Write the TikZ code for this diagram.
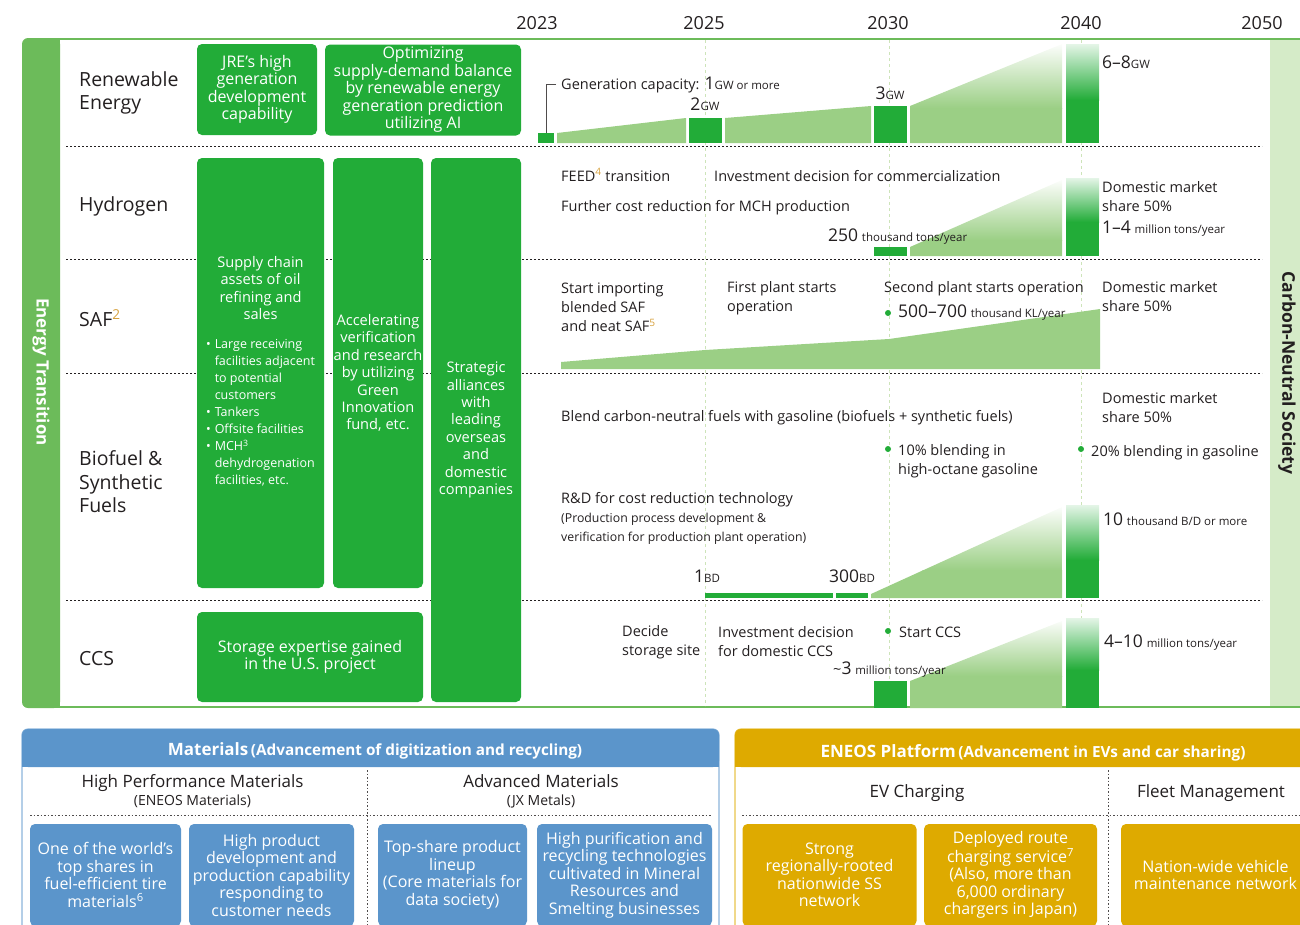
\documentclass[tikz,border=0pt]{standalone}
\usepackage{fontspec}
\setmainfont{Open Sans}
\usetikzlibrary{positioning}

\definecolor{ink}{RGB}{35,31,32}
\definecolor{boxgreen}{RGB}{34,172,56}
\definecolor{barlight}{RGB}{155,207,133}
\definecolor{framegreen}{RGB}{108,187,90}
\definecolor{cnsgreen}{RGB}{213,235,200}
\definecolor{gridgreen}{RGB}{205,228,185}
\definecolor{matblue}{RGB}{91,149,203}
\definecolor{platgold}{RGB}{222,170,0}
\definecolor{supgold}{RGB}{214,160,60}

\newcommand\smtxt[1]{{\fontsize{11.5}{13}\selectfont #1}}
\newcommand\bgnum[1]{{\fontsize{17.5}{19}\selectfont #1}}
\newcommand\ft[1]{\textsuperscript{\color{supgold}#1}}

\begin{document}
\begin{tikzpicture}[x=1pt,y=-1pt]
\tikzstyle{every node}=[text=ink,inner sep=0pt]
\tikzstyle{gbox}=[fill=boxgreen,rounded corners=5pt]
\tikzstyle{bluebox}=[fill=matblue,rounded corners=5pt]
\tikzstyle{goldbox}=[fill=platgold,rounded corners=5pt]
\tikzstyle{boxtext}=[text=white,align=center,font=\fontsize{16}{17.5}\selectfont]
\tikzstyle{narrowtext}=[text=white,align=center,font=\fontsize{14.6}{17.4}\selectfont]
\tikzstyle{rowlabel}=[anchor=west,align=left,font=\fontsize{19.5}{23.5}\selectfont]
\tikzstyle{chartnote}=[anchor=west,align=left,font=\fontsize{14.5}{19}\selectfont]
\tikzstyle{yearlbl}=[font=\fontsize{18}{20}\selectfont]
\tikzstyle{subhead}=[anchor=base,font=\fontsize{17}{20}\selectfont]
\tikzstyle{panelhead}=[anchor=base,text=white,font=\bfseries]
\tikzstyle{rowsep}=[ink,dash pattern=on 2pt off 2pt,line width=0.8pt]
\tikzstyle{yearline}=[gridgreen,dash pattern=on 3pt off 3pt,line width=1pt]
\tikzstyle{divider}=[ink!80,dash pattern=on 1.5pt off 2pt,line width=0.8pt]
\tikzstyle{ptdot}=[circle,fill=boxgreen,minimum size=6pt]

\useasboundingbox (0,0) rectangle (1300,924);

% frame
\fill[framegreen,rounded corners=6pt] (22,38) rectangle (60,708);
\fill[framegreen] (50,38) rectangle (60,708);
\fill[cnsgreen] (1270,38) rectangle (1300,708);
\draw[framegreen,line width=1.6pt] (55,38.8) -- (1300,38.8);
\draw[framegreen,line width=1.6pt] (55,707.2) -- (1300,707.2);
\node[rotate=-90,text=white,font=\bfseries\fontsize{17}{19}\selectfont] (etrans) at (41,372) {Energy Transition};
\node[rotate=-90,font=\bfseries\fontsize{17.5}{19}\selectfont] (cns) at (1287,373) {Carbon-Neutral Society};

% years
\node[yearlbl] (y2023) at (537,23) {2023};
\node[yearlbl] (y2025) at (704,23) {2025};
\node[yearlbl] (y2030) at (888,23) {2030};
\node[yearlbl] (y2040) at (1081,23) {2040};
\node[yearlbl] (y2050) at (1262,23) {2050};
\foreach \x in {705,889,1081}
  \draw[yearline] (\x,40) -- (\x,706);
\foreach \y in {146,259,373,600}
  \draw[rowsep] (66,\y) -- (1262,\y);

% rows
\node[rowlabel] (renew) at (79,93) {Renewable\\Energy};
\node[rowlabel] (hydro) at (79,206) {Hydrogen};
\node[rowlabel] (saf) at (79,318) {SAF\ft{2}};
\node[rowlabel] (biofuel) at (79,482) {Biofuel \&\\Synthetic\\Fuels};
\node[rowlabel] (ccs) at (79,659) {CCS};

% strengths
\node[gbox,boxtext,minimum width=120pt,minimum height=91pt] (jre) at (257,89.5) {JRE’s high\\generation\\development\\capability};
\node[gbox,boxtext,minimum width=196pt,minimum height=91pt] (aiopt) at (423,90) {Optimizing\\supply-demand balance\\by renewable energy\\generation prediction\\utilizing AI};
\node[gbox,narrowtext,minimum width=127pt,minimum height=430pt] (supply) at (260.5,373) {Supply chain\\assets of oil\\refining and\\sales\\[12pt]
  {\fontsize{12.5}{17}\selectfont\begin{tabular}[t]{@{}l@{\hspace{4pt}}l@{}}
  \textbullet & Large receiving\\
   & facilities adjacent\\
   & to potential\\
   & customers\\
  \textbullet & Tankers\\
  \textbullet & Offsite facilities\\
  \textbullet & MCH\textsuperscript{3}\\
   & dehydrogenation\\
   & facilities, etc.
  \end{tabular}}};
\node[gbox,narrowtext,minimum width=90pt,minimum height=430pt] (accel) at (378,373) {Accelerating\\verification\\and research\\by utilizing\\Green\\Innovation\\fund, etc.};
\node[gbox,narrowtext,minimum width=90pt,minimum height=544pt] (alliance) at (476,430) {Strategic\\alliances\\with\\leading\\overseas\\and\\domestic\\companies};
\node[gbox,boxtext,minimum width=226pt,minimum height=90pt] (storage) at (310,657) {Storage expertise gained\\in the U.S. project};

% renewable energy
\node[fill=boxgreen,minimum width=16pt,minimum height=10pt] (re23) at (546,138) {};
\fill[barlight] (557,143) -- (557,133) -- (686,118) -- (686,143) -- cycle;
\fill[boxgreen] (689,118) rectangle (722,143);
\fill[barlight] (725,143) -- (725,118) -- (871,106) -- (871,143) -- cycle;
\fill[boxgreen] (874,106) rectangle (907,143);
\begin{scope}
\clip (910,143) -- (910,106) -- (1062,44) -- (1062,143) -- cycle;
\shade[top color=white,bottom color=barlight] (905,42) rectangle (1065,108);
\fill[barlight] (905,107.5) rectangle (1065,145);
\end{scope}
\shade[top color=boxgreen!12!white,bottom color=boxgreen] (1066,44) rectangle (1099,100);
\fill[boxgreen] (1066,99.5) rectangle (1099,143);
\node[chartnote,anchor=base west] (gencap) at (561,89) {Generation capacity: \bgnum{1}\smtxt{GW or more}};
\draw[ink!80,line width=0.8pt] ([xshift=-5pt]gencap.west) -| (re23.north);
\node[chartnote,anchor=base] (gw2) at (705,110) {\bgnum{2}\smtxt{GW}};
\node[chartnote,anchor=base] (gw3) at (890,99) {\bgnum{3}\smtxt{GW}};
\node[chartnote,anchor=base west] (gw68) at (1102,68) {\bgnum{6–8}\smtxt{GW}};

% hydrogen
\fill[boxgreen] (874,247) rectangle (907,256);
\begin{scope}
\clip (910,256) -- (910,247) -- (1062,180) -- (1062,256) -- cycle;
\shade[top color=white,bottom color=barlight] (905,178) rectangle (1065,240);
\fill[barlight] (905,239.5) rectangle (1065,258);
\end{scope}
\shade[top color=boxgreen!12!white,bottom color=boxgreen] (1066,178) rectangle (1099,222);
\fill[boxgreen] (1066,221.5) rectangle (1099,256);
\node[chartnote,anchor=base west] (feed) at (561,181) {FEED\ft{4} transition};
\node[chartnote,anchor=base west] (h2invest) at (714,181) {Investment decision for commercialization};
\node[chartnote,anchor=base west] (mchcost) at (561,211) {Further cost reduction for MCH production};
\node[chartnote,anchor=base west] (h2vol) at (828,241) {\bgnum{250} \smtxt{thousand tons/year}};
\node[chartnote] (h2share) at (1102,197) {Domestic market\\share 50\%};
\node[chartnote,anchor=base west] (h2goal) at (1102,233) {\bgnum{1–4} \smtxt{million tons/year}};

% SAF
\fill[barlight] (561,369) -- (561,362) -- (705,350) -- (889,339) -- (1100,309) -- (1100,369) -- cycle;
\node[chartnote] (safimport) at (561,307) {Start importing\\blended SAF\\and neat SAF\ft{5}};
\node[chartnote] (plant1) at (727,298) {First plant starts\\operation};
\node[chartnote,anchor=base west] (plant2) at (884,292) {Second plant starts operation};
\node[ptdot] (dsaf) at (888,313) {};
\node[chartnote,anchor=base west] (safvol) at (898,317) {\bgnum{500–700} \smtxt{thousand KL/year}};
\node[chartnote] (safshare) at (1102,297) {Domestic market\\share 50\%};

% biofuel & synthetic fuels
\fill[boxgreen] (705,593) rectangle (833,598);
\fill[boxgreen] (836,593) rectangle (868,598);
\begin{scope}
\clip (871,598) -- (871,594) -- (1062,507) -- (1062,598) -- cycle;
\shade[top color=white,bottom color=barlight] (865,505) rectangle (1065,570);
\fill[barlight] (865,569.5) rectangle (1065,600);
\end{scope}
\shade[top color=boxgreen!12!white,bottom color=boxgreen] (1066,505) rectangle (1099,560);
\fill[boxgreen] (1066,559.5) rectangle (1099,598);
\node[chartnote] (bioshare) at (1102,408) {Domestic market\\share 50\%};
\node[chartnote,anchor=base west] (blend) at (561,421) {Blend carbon-neutral fuels with gasoline (biofuels + synthetic fuels)};
\node[ptdot] (d10) at (888,449) {};
\node[chartnote] (blend10) at (898,461) {10\% blending in\\high-octane gasoline};
\node[ptdot] (d20) at (1081,449) {};
\node[chartnote,anchor=base west] (blend20) at (1091,456) {20\% blending in gasoline};
\node[chartnote,anchor=base west] (rnd) at (561,503) {R\&D for cost reduction technology};
\node[chartnote,font=\fontsize{12.3}{18.5}\selectfont] (rnddet) at (561,529) {(Production process development \&\\verification for production plant operation)};
\node[chartnote,anchor=base west] (bd1) at (694,582) {\bgnum{1}\smtxt{BD}};
\node[chartnote,anchor=base west] (bd300) at (829,582) {\bgnum{300}\smtxt{BD}};
\node[chartnote,anchor=base west] (biogoal) at (1103,525) {\bgnum{10} \smtxt{thousand B/D or more}};

% CCS
\fill[boxgreen] (874,681) rectangle (907,708);
\begin{scope}
\clip (910,708) -- (910,681) -- (1062,621) -- (1062,708) -- cycle;
\shade[top color=white,bottom color=barlight] (905,618) rectangle (1065,676);
\fill[barlight] (905,675.5) rectangle (1065,710);
\end{scope}
\shade[top color=boxgreen!12!white,bottom color=boxgreen] (1066,618) rectangle (1099,670);
\fill[boxgreen] (1066,669.5) rectangle (1099,708);
\node[chartnote] (site) at (622,642) {Decide\\storage site};
\node[chartnote] (ccsinvest) at (718,642) {Investment decision\\for domestic CCS};
\node[ptdot] (dccs) at (888,631) {};
\node[chartnote,anchor=base west] (ccsstart) at (899,637) {Start CCS};
\node[chartnote,anchor=base west] (ccsvol) at (833,674) {\textasciitilde\bgnum{3} \smtxt{million tons/year}};
\node[chartnote,anchor=base west] (ccsgoal) at (1104,647) {\bgnum{4–10} \smtxt{million tons/year}};

% materials panel
\draw[matblue!70,line width=1.2pt,fill=white,rounded corners=6pt] (22,729) rectangle (719,950);
\fill[matblue,rounded corners=6pt] (22,729) rectangle (719,767);
\fill[matblue] (22,755) rectangle (719,767);
\node[panelhead] (mathead) at (375,755) {{\fontsize{17}{19}\selectfont Materials} {\fontsize{15.3}{19}\selectfont (Advancement of digitization and recycling)}};
\node[subhead] (hpm) at (192.5,787) {High Performance Materials};
\node[subhead,font=\fontsize{14}{16}\selectfont] (eneosmat) at (192.5,805) {(ENEOS Materials)};
\node[subhead] (advmat) at (541,787) {Advanced Materials};
\node[subhead,font=\fontsize{14}{16}\selectfont] (jxmet) at (541,805) {(JX Metals)};
\draw[divider] (367,770) -- (367,930);
\draw[divider] (30,815.5) -- (711,815.5);
\node[bluebox,boxtext,minimum width=151pt,minimum height=102pt] (tire) at (105.5,875) {One of the world’s\\top shares in\\fuel-efficient tire\\materials\textsuperscript{6}};
\node[bluebox,boxtext,minimum width=165pt,minimum height=102pt] (prodcap) at (271.5,875) {High product\\development and\\production capability\\responding to\\customer needs};
\node[bluebox,boxtext,minimum width=149pt,minimum height=102pt] (topshare) at (452.5,875) {Top-share product\\lineup\\(Core materials for\\data society)};
\node[bluebox,boxtext,minimum width=175pt,minimum height=102pt] (purify) at (624.5,875) {High purification and\\recycling technologies\\cultivated in Mineral\\Resources and\\Smelting businesses};

% platform panel
\draw[platgold!70,line width=1.2pt,fill=white,rounded corners=6pt] (735,729) rectangle (1335,950);
\fill[platgold,rounded corners=6pt] (735,729) rectangle (1335,767);
\fill[platgold] (735,755) rectangle (1335,767);
\node[panelhead] (plathead) at (1033,757) {{\fontsize{17}{19}\selectfont ENEOS Platform} {\fontsize{15.3}{19}\selectfont (Advancement in EVs and car sharing)}};
\node[subhead] (evchg) at (917,797) {EV Charging};
\node[subhead] (fleet) at (1211,797) {Fleet Management};
\draw[divider] (1108,770) -- (1108,930);
\draw[divider] (742,815.5) -- (1300,815.5);
\node[goldbox,boxtext,minimum width=174pt,minimum height=102pt] (ssnet) at (829.5,875) {Strong\\regionally-rooted\\nationwide SS\\network};
\node[goldbox,boxtext,minimum width=173pt,minimum height=102pt] (routechg) at (1010.5,875) {Deployed route\\charging service\textsuperscript{7}\\(Also, more than\\6,000 ordinary\\chargers in Japan)};
\node[goldbox,boxtext,minimum width=189pt,minimum height=102pt] (fleetnet) at (1215.5,875) {Nation-wide vehicle\\maintenance network};
\end{tikzpicture}
\end{document}
